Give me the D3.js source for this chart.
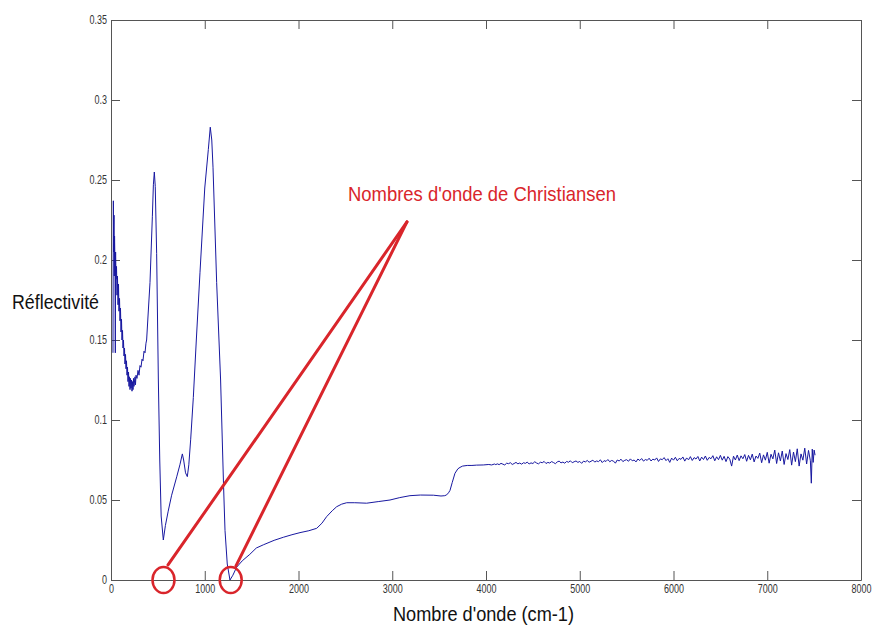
<!DOCTYPE html>
<html>
<head>
<meta charset="utf-8">
<script src="https://cdn.jsdelivr.net/npm/d3@7"></script>
<style>
  html, body { margin: 0; padding: 0; background: #fff; }
  svg { display: block; }
  text { font-family: Arial, "Liberation Sans", sans-serif; }
</style>
</head>
<body>
<svg id="chart" width="875" height="631"></svg>
<script>
// ---------- data ----------
const xTicks = [0, 1000, 2000, 3000, 4000, 5000, 6000, 7000, 8000];
const xTickLabels = ["0", "1000", "2000", "3000", "4000", "5000", "6000", "7000", "8000"];
const yTicks = [0, 0.05, 0.1, 0.15, 0.2, 0.25, 0.3, 0.35];
const yTickLabels = ["0", "0.05", "0.1", "0.15", "0.2", "0.25", "0.3", "0.35"];

const xTitle = "Nombre d'onde (cm-1)";
const yTitle = "Réflectivité";
const annotationText = "Nombres d'onde de Christiansen";

// low wavenumber noisy part [wavenumber, reflectivity]
const spectrumLow = [
  [21, 0.142], [25, 0.237], [28, 0.205], [32, 0.228], [35, 0.190], [38, 0.215],
  [43, 0.195], [46, 0.142], [49, 0.205], [53, 0.188], [59, 0.196], [64, 0.178],
  [69, 0.190], [75, 0.172], [80, 0.185], [85, 0.168], [91, 0.176], [96, 0.162],
  [101, 0.170], [107, 0.155], [112, 0.163], [117, 0.150], [123, 0.156], [128, 0.145],
  [133, 0.150], [139, 0.140], [144, 0.145], [149, 0.135], [155, 0.141], [160, 0.132],
  [165, 0.137], [171, 0.128], [176, 0.133], [181, 0.124], [187, 0.130], [192, 0.121],
  [197, 0.127], [203, 0.119], [208, 0.126], [213, 0.120], [219, 0.125], [224, 0.118],
  [229, 0.124], [235, 0.119], [240, 0.126], [245, 0.121], [256, 0.127], [261, 0.122],
  [267, 0.128], [277, 0.126], [288, 0.131], [299, 0.128], [309, 0.134], [320, 0.133],
  [331, 0.138], [341, 0.137], [352, 0.143], [363, 0.142], [373, 0.148]
];

// smooth middle part
const spectrumMid = [
  [380, 0.150], [395, 0.165], [416, 0.186], [441, 0.227], [452, 0.247], [462, 0.255],
  [472, 0.246], [487, 0.204], [497, 0.160], [505, 0.125], [520, 0.075], [535, 0.040],
  [558, 0.025], [580, 0.034], [610, 0.043], [647, 0.053], [701, 0.0645],
  [735, 0.072], [761, 0.0788], [775, 0.075], [795, 0.067], [814, 0.0646], [830, 0.072],
  [850, 0.088], [878, 0.114], [910, 0.150], [949, 0.192], [1000, 0.245], [1038, 0.269],
  [1059, 0.283], [1075, 0.275], [1088, 0.258], [1127, 0.186], [1169, 0.125], [1200, 0.060],
  [1216, 0.031], [1240, 0.010], [1269, 0.000], [1300, 0.003], [1340, 0.008], [1400, 0.012],
  [1480, 0.016], [1550, 0.020], [1625, 0.022], [1740, 0.0248], [1838, 0.0267], [1930, 0.0283],
  [2016, 0.0296], [2110, 0.0308], [2194, 0.0323], [2250, 0.0355], [2300, 0.0396], [2360, 0.0433],
  [2407, 0.0458], [2460, 0.0474], [2514, 0.0483], [2600, 0.0483], [2727, 0.0480], [2850, 0.0490],
  [2976, 0.0500], [3080, 0.0515], [3189, 0.0527], [3300, 0.0531], [3438, 0.0530], [3520, 0.0525],
  [3560, 0.0527], [3580, 0.0532], [3600, 0.0545], [3616, 0.0560], [3640, 0.0610], [3669, 0.0667],
  [3700, 0.0695], [3723, 0.0704], [3750, 0.0712], [3800, 0.0716], [3850, 0.0716], [3900, 0.0718],
  [3971, 0.0719], [4030, 0.0722], [4060, 0.0719], [4090, 0.0725], [4105, 0.0721]
];

// high wavenumber noisy part
const spectrumHigh = [
  [4120, .0726], [4140, .0721], [4160, .0729], [4180, .0724], [4200, .0719], [4220, .0730],
  [4240, .0727], [4260, .0733], [4280, .0722], [4300, .0728], [4320, .0735], [4340, .0726],
  [4360, .0731], [4380, .0724], [4400, .0733], [4420, .0729], [4440, .0737], [4460, .0725],
  [4480, .0732], [4500, .0728], [4520, .0739], [4540, .0731], [4560, .0726], [4580, .0736],
  [4600, .0733], [4620, .0741], [4640, .0728], [4660, .0735], [4680, .0731], [4700, .0740],
  [4720, .0734], [4740, .0727], [4760, .0738], [4780, .0743], [4800, .0732], [4820, .0737],
  [4840, .0730], [4860, .0741], [4880, .0736], [4900, .0745], [4920, .0733], [4940, .0739],
  [4960, .0744], [4980, .0735], [5000, .0741], [5020, .0729], [5040, .0743], [5060, .0738],
  [5080, .0747], [5100, .0736], [5120, .0742], [5140, .0749], [5160, .0737], [5180, .0744],
  [5200, .0740], [5220, .0751], [5240, .0734], [5260, .0746], [5280, .0741], [5300, .0753],
  [5320, .0739], [5340, .0747], [5360, .0743], [5380, .0730], [5400, .0750], [5420, .0744],
  [5440, .0755], [5460, .0740], [5480, .0748], [5500, .0752], [5520, .0742], [5540, .0757],
  [5560, .0745], [5580, .0750], [5600, .0738], [5620, .0756], [5640, .0747], [5660, .0759],
  [5680, .0743], [5700, .0753], [5720, .0748], [5740, .0761], [5760, .0744], [5780, .0755],
  [5800, .0750], [5820, .0763], [5840, .0741], [5860, .0757], [5880, .0752], [5900, .0765],
  [5920, .0746], [5940, .0758], [5960, .0735], [5980, .0762], [6000, .0749], [6020, .0767],
  [6040, .0745], [6060, .0760], [6080, .0754], [6100, .0769], [6120, .0743], [6140, .0763],
  [6160, .0751], [6180, .0771], [6200, .0747], [6220, .0765], [6240, .0756], [6260, .0772],
  [6280, .0744], [6300, .0768], [6320, .0753], [6340, .0775], [6360, .0748], [6380, .0766],
  [6400, .0758], [6420, .0777], [6440, .0745], [6460, .0770], [6480, .0752], [6500, .0779],
  [6520, .0749], [6540, .0773], [6560, .0740], [6580, .0771], [6600, .0756], [6620, .0712],
  [6640, .0774], [6660, .0750], [6680, .0781], [6700, .0746], [6720, .0776], [6740, .0758],
  [6760, .0784], [6780, .0742], [6800, .0779], [6820, .0751], [6840, .0787], [6860, .0738],
  [6880, .0775], [6900, .0760], [6920, .0793], [6940, .0733], [6960, .0782], [6980, .0749],
  [7000, .0798], [7020, .0730], [7040, .0786], [7060, .0757], [7080, .0812], [7100, .0728],
  [7120, .0795], [7140, .0744], [7160, .0806], [7180, .0722], [7200, .0790], [7220, .0753],
  [7240, .0815], [7260, .0718], [7280, .0800], [7300, .0740], [7320, .0820], [7340, .0712],
  [7360, .0788], [7380, .0749], [7400, .0824], [7420, .0725], [7440, .0810], [7460, .0745],
  [7470, .0605], [7480, .0818], [7490, .0735], [7500, .0812], [7510, .0780]
];

// annotation anchors in data units
const markerCircles = [[560, 0], [1277, 0]];
const apexPoint = [3157, 0.2238];
const pointerEnds = [[608, 0.0094], [1333, 0.0088]];
const annotationAnchor = [2528, 0.2369];

// ---------- drawing ----------
const svg = d3.select("#chart");
const W = 875, H = 631;
const plotL = 111, plotR = 861, plotT = 20, plotB = 580;

const x = d3.scaleLinear().domain([0, 8000]).range([plotL, plotR]);
const y = d3.scaleLinear().domain([0, 0.35]).range([plotB, plotT]);

svg.append("rect").attr("width", W).attr("height", H).attr("fill", "#fff");

const axisColor = "#555";
const tickLen = 9;
const sx = 0.75;

function styleAxis(g) {
  g.select(".domain").attr("stroke", axisColor);
  g.selectAll(".tick line").attr("stroke", axisColor);
  g.selectAll(".tick text").attr("fill", "#333").attr("font-size", 12);
}

// bottom axis
const gx = svg.append("g").attr("transform", `translate(0,${plotB})`)
  .call(d3.axisBottom(x).tickValues(xTicks).tickFormat((d, i) => xTickLabels[i])
    .tickSizeInner(-tickLen).tickSizeOuter(0).tickPadding(4));
styleAxis(gx);
gx.selectAll(".tick text").attr("transform", `scale(${sx},1)`);

// top axis
const gxt = svg.append("g").attr("transform", `translate(0,${plotT})`)
  .call(d3.axisTop(x).tickValues(xTicks).tickFormat("")
    .tickSizeInner(-tickLen).tickSizeOuter(0));
styleAxis(gxt);

// left axis
const gy = svg.append("g").attr("transform", `translate(${plotL},0)`)
  .call(d3.axisLeft(y).tickValues(yTicks).tickFormat((d, i) => yTickLabels[i])
    .tickSizeInner(-tickLen).tickSizeOuter(0).tickPadding(4));
styleAxis(gy);
gy.selectAll(".tick text").attr("x", -4 / sx).attr("transform", `scale(${sx},1)`);

// right axis
const gyr = svg.append("g").attr("transform", `translate(${plotR},0)`)
  .call(d3.axisRight(y).tickValues(yTicks).tickFormat("")
    .tickSizeInner(-tickLen).tickSizeOuter(0));
styleAxis(gyr);

// spectrum
const spectrum = spectrumLow.concat(spectrumMid, spectrumHigh);
const line = d3.line().x(d => x(d[0])).y(d => y(d[1]));
svg.append("path")
  .datum(spectrum)
  .attr("d", line)
  .attr("fill", "none")
  .attr("stroke", "#1818a0")
  .attr("stroke-width", 1)
  .attr("stroke-linejoin", "round");

// annotation
const red = "#d9252b";
svg.selectAll("line.pointer").data(pointerEnds).enter().append("line")
  .attr("class", "pointer")
  .attr("x1", x(apexPoint[0])).attr("y1", y(apexPoint[1]))
  .attr("x2", d => x(d[0])).attr("y2", d => y(d[1]))
  .attr("stroke", red).attr("stroke-width", 3).attr("stroke-linecap", "round");

svg.selectAll("ellipse.marker").data(markerCircles).enter().append("ellipse")
  .attr("class", "marker")
  .attr("cx", d => x(d[0])).attr("cy", d => y(d[1]))
  .attr("rx", 11).attr("ry", 13)
  .attr("fill", "none").attr("stroke", red).attr("stroke-width", 2.5);

svg.append("text")
  .attr("x", x(annotationAnchor[0])).attr("y", y(annotationAnchor[1]))
  .attr("font-size", 21).attr("fill", red)
  .attr("textLength", 268).attr("lengthAdjust", "spacingAndGlyphs")
  .text(annotationText);

// titles
svg.append("text")
  .attr("x", 393).attr("y", 621)
  .attr("font-size", 20).attr("fill", "#111")
  .attr("textLength", 181).attr("lengthAdjust", "spacingAndGlyphs")
  .text(xTitle);

svg.append("text")
  .attr("x", 12).attr("y", 309)
  .attr("font-size", 20).attr("fill", "#111")
  .attr("textLength", 87).attr("lengthAdjust", "spacingAndGlyphs")
  .text(yTitle);
</script>
</body>
</html>
